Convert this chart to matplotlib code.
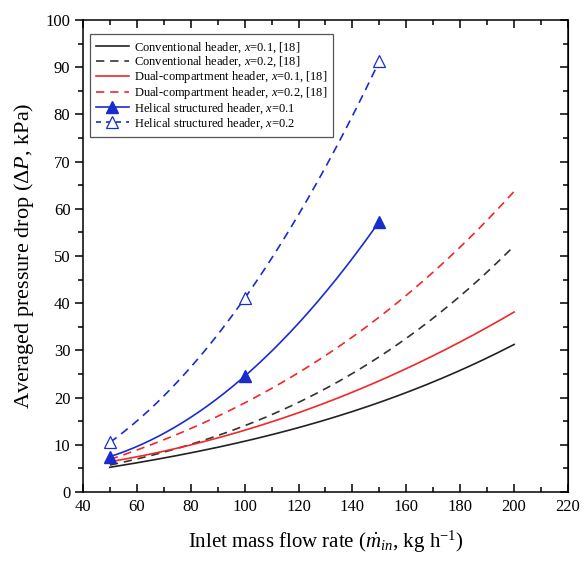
import matplotlib
matplotlib.use('Agg')
import numpy as np
import matplotlib.pyplot as plt
from matplotlib.ticker import MultipleLocator

plt.rcParams['font.family'] = ['Liberation Serif', 'DejaVu Serif']
plt.rcParams['mathtext.fontset'] = 'custom'
plt.rcParams['mathtext.rm'] = 'Liberation Serif'
plt.rcParams['mathtext.it'] = 'Liberation Serif:italic'

# values
flow = [50, 75, 100, 125, 150, 175, 200]
conv_01 = [5.2, 7.8, 10.7, 14.5, 18.8, 24.7, 31.2]
conv_02 = [5.7, 9.1, 14.5, 20.0, 28.5, 39.5, 52.0]
dual_01 = [6.4, 9.3, 13.1, 17.8, 23.5, 30.4, 38.1]
dual_02 = [6.9, 12.1, 19.1, 27.0, 36.8, 49.5, 63.6]

helical_flow = [50, 75, 100, 125, 150]
helical_01 = [7.5, 14.0, 24.5, 39.0, 57.3]
helical_02 = [10.5, 23.3, 41.0, 63.7, 91.3]
marker_flow = [50, 100, 150]
marker_01 = [7.5, 24.5, 57.3]
marker_02 = [10.5, 41.0, 91.3]

labels = [
    r'Conventional header, $x$=$\mathit{0.1}$, [18]',
    r'Conventional header, $x$=$\mathit{0.2}$, [18]',
    r'Dual-compartment header, $x$=$\mathit{0.1}$, [18]',
    r'Dual-compartment header, $x$=$\mathit{0.2}$, [18]',
    r'Helical structured header, $x$=$\mathit{0.1}$',
    r'Helical structured header, $x$=$\mathit{0.2}$',
]

BLUE = '#1a2ccc'
RED = '#f02828'
DASH = (0, (5, 3.5))


def smooth(ax, x, y, deg, **kw):
    # smooth connection through the read points (like the spline in the original)
    xs = np.linspace(min(x), max(x), 200)
    ys = np.polyval(np.polyfit(x, y, deg), xs)
    ax.plot(xs, ys, **kw)


fig = plt.figure(figsize=(5.84, 5.64), dpi=100)
ax = fig.add_axes([0.142, 0.1277, 0.8306, 0.8368])

lw = 1.2
smooth(ax, flow, conv_01, 3, color='#222222', lw=lw)
smooth(ax, flow, conv_02, 3, color='#333333', lw=lw, ls=DASH)
smooth(ax, flow, dual_01, 3, color=RED, lw=lw)
smooth(ax, flow, dual_02, 3, color=RED, lw=lw, ls=DASH)
smooth(ax, helical_flow, helical_01, 2, color=BLUE, lw=lw)
smooth(ax, helical_flow, helical_02, 2, color=BLUE, lw=lw, ls=DASH)
ax.plot(marker_flow, marker_01, ls='none', marker='^', ms=9, color=BLUE)
ax.plot(marker_flow, marker_02, ls='none', marker='^', ms=9, mfc='white',
        mec=BLUE, mew=0.9)

# legend handles
h = [
    plt.Line2D([], [], color='#222222', lw=lw),
    plt.Line2D([], [], color='#333333', lw=lw, ls=DASH),
    plt.Line2D([], [], color=RED, lw=lw),
    plt.Line2D([], [], color=RED, lw=lw, ls=DASH),
    plt.Line2D([], [], color=BLUE, lw=lw, marker='^', ms=8),
    plt.Line2D([], [], color=BLUE, lw=lw, ls=(0, (3, 3)), marker='^', ms=8,
               mfc='white', mec=BLUE, mew=0.9),
]
leg = ax.legend(h, labels, loc='upper left', bbox_to_anchor=(0.0144, 0.97),
                borderaxespad=0, fontsize=9, handlelength=2.6,
                labelspacing=0.0, handletextpad=0.4, fancybox=False,
                framealpha=1, edgecolor='#555555', borderpad=0.5)
leg.get_frame().set_linewidth(0.9)

ax.set_xlim(40, 220)
ax.set_ylim(0, 100)
ax.xaxis.set_major_locator(MultipleLocator(20))
ax.xaxis.set_minor_locator(MultipleLocator(10))
ax.yaxis.set_major_locator(MultipleLocator(10))
ax.yaxis.set_minor_locator(MultipleLocator(5))

ax.tick_params(axis='x', which='both', direction='in', top=True, labelsize=12,
               pad=5)
ax.tick_params(axis='y', which='both', direction='out', labelsize=12, pad=3)
ax.tick_params(which='major', length=6, width=1.1)
ax.tick_params(which='minor', length=3.5, width=1.1)
for s in ax.spines.values():
    s.set_linewidth(1.1)

# right side ticks pointing inward
ax2 = ax.secondary_yaxis('right')
ax2.yaxis.set_major_locator(MultipleLocator(10))
ax2.yaxis.set_minor_locator(MultipleLocator(5))
ax2.tick_params(which='both', direction='in', labelright=False, width=1.1)
ax2.tick_params(which='major', length=6)
ax2.tick_params(which='minor', length=3.5)

ax.set_xlabel(r'Inlet mass flow rate ($\dot{m}_{in}$, kg h$^{\mathrm{-1}}$)',
              fontsize=15, labelpad=10)
ax.set_ylabel(r'Averaged pressure drop ($\mathit{ΔP}$, kPa)', fontsize=16,
              labelpad=7)

fig.savefig('out.png', dpi=100)
